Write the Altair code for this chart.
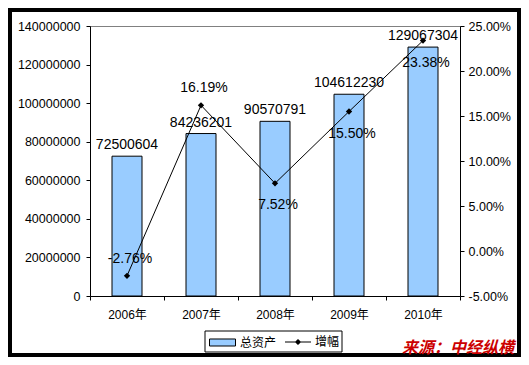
import altair as alt
import pandas as pd

years = ["2006年", "2007年", "2008年", "2009年", "2010年"]
assets = [72500604, 84236201, 90570791, 104612230, 129067304]
growth = [-0.0276, 0.1619, 0.0752, 0.1550, 0.2338]
asset_ticks = [0, 20000000, 40000000, 60000000, 80000000, 100000000, 120000000, 140000000]
growth_ticks = [-0.05, 0.0, 0.05, 0.10, 0.15, 0.20, 0.25]
bar_series = ["总资产"]
line_series = ["增幅"]
labels_above = ["2006年", "2007年"]
labels_below = ["2008年", "2009年", "2010年"]
source_text = "来源：中经纵横"

df = pd.DataFrame({"year": years, "assets": assets, "growth": growth})

F = "Liberation Sans, Arial, Noto Sans CJK SC"
CJK = "Noto Sans CJK SC"

LEG_Y = 303
common_leg = dict(
    title=None, orient="none", legendY=LEG_Y, direction="horizontal", padding=0,
    labelFont=CJK, labelFontSize=12, labelColor="black", symbolSize=676, labelOffset=4,
)
leg_bar = alt.Legend(
    legendX=119, symbolType="M-1,-0.27H1V0.27H-1Z",
    symbolStrokeColor="black", symbolStrokeWidth=1, **common_leg
)
leg_line = alt.Legend(
    legendX=195, symbolType="M-1,-0.04H1V0.04H-1Z M0,-0.24L0.24,0L0,0.24L-0.24,0Z",
    symbolStrokeWidth=0, **common_leg
)

X = alt.X(
    "year:N",
    sort=years,
    scale=alt.Scale(paddingInner=0, paddingOuter=0),
    axis=alt.Axis(
        title=None, labelAngle=0, labelFont=F, labelFontSize=12, labelColor="black",
        domainColor="black", tickColor="black", tickSize=4, tickBand="extent",
        labelPadding=9, zindex=1,
    ),
)

yl = alt.Y(
    "assets:Q",
    scale=alt.Scale(domain=[0, 140000000], nice=False),
    axis=alt.Axis(
        orient="left", title=None, values=asset_ticks, format="d", grid=False,
        labelFont=F, labelFontSize=12.5, labelColor="black", domainColor="black",
        tickColor="black", tickSize=4, labelPadding=6, zindex=1,
    ),
)
yr = alt.Y(
    "growth:Q",
    scale=alt.Scale(domain=[-0.05, 0.25], nice=False),
    axis=alt.Axis(
        orient="right", title=None, values=growth_ticks, format=".2%", grid=False,
        labelFont=F, labelFontSize=12.5, labelColor="black", domainColor="black",
        tickColor="black", tickSize=4, labelPadding=4, zindex=1,
    ),
)

base = alt.Chart(df)

bars = base.transform_calculate(series="'总资产'").mark_bar(
    size=30, stroke="black", strokeWidth=1, opacity=1
).encode(
    x=X, y=yl,
    fill=alt.Fill("series:N", scale=alt.Scale(domain=bar_series, range=["#99ccff"]), legend=leg_bar),
)

bar_text = base.mark_text(
    baseline="alphabetic", dy=-7, font=F, fontSize=14, color="black"
).encode(x=X, y=yl, text=alt.Text("assets:Q", format="d"))

left = alt.layer(bars, bar_text)

line = base.mark_line(strokeWidth=1, color="black").encode(x=X, y=yr)
points = base.transform_calculate(series="'增幅'").mark_point(
    shape="diamond", filled=True, size=40, opacity=1
).encode(
    x=X, y=yr,
    color=alt.Color("series:N", scale=alt.Scale(domain=line_series, range=["black"]), legend=leg_line),
)

pct_above = base.transform_filter(alt.FieldOneOfPredicate(field="year", oneOf=labels_above)).mark_text(
    baseline="alphabetic", dy=-13, dx=3, font=F, fontSize=14, color="black"
).encode(x=X, y=yr, text=alt.Text("growth:Q", format=".2%"))

pct_below = base.transform_filter(alt.FieldOneOfPredicate(field="year", oneOf=labels_below)).mark_text(
    baseline="alphabetic", dy=26, dx=3, font=F, fontSize=14, color="black"
).encode(x=X, y=yr, text=alt.Text("growth:Q", format=".2%"))

right = alt.layer(line, points, pct_above, pct_below)

one = pd.DataFrame({"k": [0]})

legend_box = alt.Chart(one).mark_rect(
    fill="white", stroke="black", strokeWidth=1
).encode(x=alt.value(115), x2=alt.value(252), y=alt.value(305), y2=alt.value(326))

frame = alt.Chart(one).mark_rect(
    filled=False, stroke="black", strokeWidth=8
).encode(x=alt.value(-82), x2=alt.value(431), y=alt.value(-18), y2=alt.value(331))

source = alt.Chart(pd.DataFrame({"t": [source_text]})).mark_text(
    align="right", baseline="alphabetic", font=CJK, fontSize=16, fontWeight="bold",
    fontStyle="italic", color="#cc0000"
).encode(x=alt.value(424), y=alt.value(327), text="t:N")

chart = (
    alt.layer(left, right, legend_box, frame, source)
    .resolve_scale(y="independent")
    .properties(
        width=370,
        height=270,
        padding={"left": 82, "top": 18, "right": 61, "bottom": 61},
        autosize=alt.AutoSizeParams(type="none"),
    )
    .configure(locale={"number": {"decimal": ".", "thousands": ",", "grouping": [3], "currency": ["$", ""], "minus": "-"}})
    .configure_view(stroke="#808080", strokeWidth=1)
)

chart.save("out.html", embed_options={"renderer": "svg", "actions": False})
